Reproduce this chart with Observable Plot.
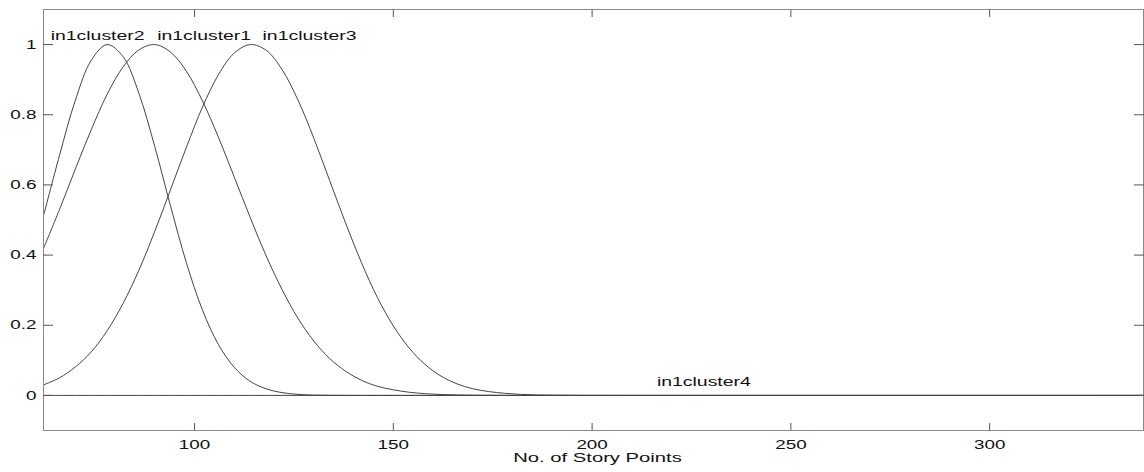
<!DOCTYPE html>
<html>
<head>
<meta charset="utf-8">
<script src="https://cdn.jsdelivr.net/npm/d3@7"></script>
<script src="https://cdn.jsdelivr.net/npm/@observablehq/plot@0.6"></script>
<style>
  html, body { margin: 0; padding: 0; background: #fff; }
  #chart { width: 1144px; height: 472px; overflow: hidden; }
</style>
</head>
<body>
<div id="chart"></div>
<script>
// ---- data ----
const storyPoints = [62, 66, 70, 74, 78, 82, 86, 90, 94, 98, 102, 106, 110, 114, 118, 122, 126, 130, 134, 138,
  142, 146, 150, 154, 158, 162, 166, 170, 174, 178, 182, 186, 190, 194, 198, 202, 206, 338.7];

const in1cluster1 = [0.419, 0.529, 0.645, 0.757, 0.858, 0.936, 0.985, 1.000, 0.978, 0.923, 0.839, 0.736, 0.622, 0.507, 0.398, 0.302, 0.220, 0.155, 0.105, 0.069,
  0.043, 0.026, 0.016, 0.009, 0.005, 0.0025, 0.0013, 0.0006, 0.0003, 0.0001, 0, 0, 0, 0, 0, 0, 0, 0];

const in1cluster2 = [0.512, 0.683, 0.841, 0.955, 1.000, 0.966, 0.861, 0.709, 0.538, 0.376, 0.243, 0.145, 0.080, 0.040, 0.019, 0.008, 0.003, 0.001, 0.0004, 0.0001,
  0, 0, 0, 0, 0, 0, 0, 0, 0, 0, 0, 0, 0, 0, 0, 0, 0, 0];

const in1cluster3 = [0.030, 0.050, 0.081, 0.124, 0.184, 0.262, 0.357, 0.468, 0.588, 0.709, 0.822, 0.914, 0.976, 1.000, 0.984, 0.929, 0.842, 0.733, 0.612, 0.491,
  0.378, 0.279, 0.198, 0.135, 0.088, 0.055, 0.033, 0.019, 0.011, 0.006, 0.003, 0.0014, 0.0007, 0.0003, 0.0001, 0.0001, 0, 0];

const in1cluster4 = [0, 0, 0, 0, 0, 0, 0, 0, 0, 0, 0, 0, 0, 0, 0, 0, 0, 0, 0, 0,
  0, 0, 0, 0, 0, 0, 0, 0, 0, 0, 0, 0, 0, 0, 0, 0, 0, 0];

const mfNames = ["in1cluster1", "in1cluster2", "in1cluster3", "in1cluster4"];
const mfLabelX = [90.6, 63.8, 117.1, 216.3];
const mfLabelY = [1, 1, 1, 0.014];

const xTicks = [100, 150, 200, 250, 300];
const yTicks = [0, 0.2, 0.4, 0.6, 0.8, 1];
const yTickLabels = ["0", "0.2", "0.4", "0.6", "0.8", "1"];
const xLabel = "No. of Story Points";

// ---- build tables ----
const series = [in1cluster1, in1cluster2, in1cluster3, in1cluster4];
const rows = [];
series.forEach((vals, k) => vals.forEach((v, i) => rows.push({x: storyPoints[i], y: v, mf: mfNames[k]})));
const labels = mfNames.map((n, k) => ({name: n, x: mfLabelX[k], y: mfLabelY[k]}));

const tickStroke = "#555";
const chart = Plot.plot({
  width: 1144,
  height: 472,
  marginLeft: 43,
  marginRight: 1,
  marginTop: 9,
  marginBottom: 42,
  style: {fontFamily: "'Liberation Sans', Arial, sans-serif", fontSize: "13px", background: "#fff", color: "#222"},
  x: {domain: [62, 338.7]},
  y: {domain: [-0.1, 1.1]},
  marks: [
    Plot.line(rows, {x: "x", y: "y", z: "mf", stroke: "#444", strokeWidth: 1, curve: "catmull-rom"}),
    Plot.frame({stroke: "#8a8a8a", strokeWidth: 1}),
    // inward tick marks
    Plot.axisY({ticks: yTicks, anchor: "left", tickSize: -10, text: null, label: null, stroke: tickStroke}),
    Plot.axisY({ticks: yTicks, anchor: "right", tickSize: -10, text: null, label: null, stroke: tickStroke}),
    Plot.axisX({ticks: xTicks, anchor: "bottom", tickSize: -7, text: null, label: null, stroke: tickStroke}),
    Plot.axisX({ticks: xTicks, anchor: "top", tickSize: -7, text: null, label: null, stroke: tickStroke}),
    // tick labels
    Plot.axisY({ticks: yTicks, anchor: "left", tickSize: 0, tickPadding: 7, label: null, fontSize: 13, fill: "#111",
      tickFormat: d => yTickLabels[yTicks.indexOf(d)]}),
    Plot.axisX({ticks: xTicks, anchor: "bottom", tickSize: 0, tickPadding: 9, label: null, fontSize: 13, fill: "#111",
      tickFormat: d => String(d)}),
    // axis title
    Plot.text([xLabel], {frameAnchor: "bottom", text: d => d, lineAnchor: "middle", dy: 27, dx: 4, fontSize: 12.5, fill: "#111"}),
    // membership function labels
    Plot.text(labels, {x: "x", y: "y", text: "name", textAnchor: "start", lineAnchor: "middle", dy: -8.4, fontSize: 12, fill: "#111"})
  ]
});

// horizontal glyph stretch, as in the reference
function stretch(t, s) {
  const tr = t.getAttribute("transform") || "";
  t.setAttribute("transform", `${tr} scale(${s},1)`);
}
chart.querySelectorAll("text").forEach(t => {
  const s = t.textContent;
  if (mfNames.includes(s) || s === xLabel) stretch(t, 1.62);
});
chart.querySelectorAll('[aria-label="y-axis tick label"] text, [aria-label="x-axis tick label"] text').forEach(t => stretch(t, 1.45));

document.getElementById("chart").appendChild(chart);
</script>
</body>
</html>
